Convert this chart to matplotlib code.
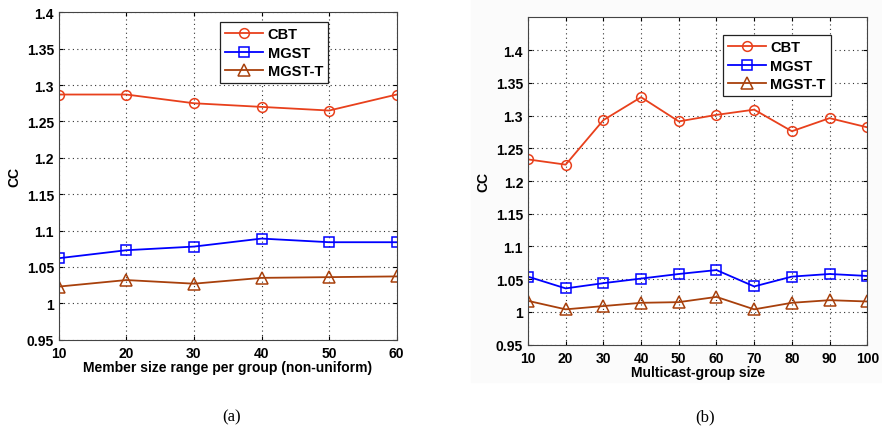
import matplotlib.pyplot as plt
from matplotlib.patches import Rectangle

# panel (a): member size range per group
sizes_a = [10, 20, 30, 40, 50, 60]
cbt_a = [1.287, 1.287, 1.275, 1.270, 1.265, 1.287]
mgst_a = [1.062, 1.073, 1.078, 1.089, 1.084, 1.084]
mgstt_a = [1.023, 1.032, 1.027, 1.035, 1.036, 1.037]

# panel (b): multicast-group size
sizes_b = [10, 20, 30, 40, 50, 60, 70, 80, 90, 100]
cbt_b = [1.233, 1.225, 1.293, 1.328, 1.291, 1.301, 1.309, 1.276, 1.296, 1.282]
mgst_b = [1.054, 1.036, 1.044, 1.051, 1.058, 1.064, 1.039, 1.054, 1.058, 1.055]
mgstt_b = [1.017, 1.004, 1.009, 1.014, 1.015, 1.023, 1.004, 1.014, 1.018, 1.016]

yticks = [0.95, 1.0, 1.05, 1.1, 1.15, 1.2, 1.25, 1.3, 1.35, 1.4]
ytick_labels = ['0.95', '1', '1.05', '1.1', '1.15', '1.2', '1.25', '1.3', '1.35', '1.4']

c_cbt = '#E8401C'
c_mgst = '#0000FF'
c_mgstt = '#A8400C'

plt.rcParams['font.family'] = ['Liberation Sans', 'DejaVu Sans']
plt.rcParams['font.weight'] = 'bold'
plt.rcParams['axes.labelweight'] = 'bold'

fig = plt.figure(figsize=(8.82, 4.31), dpi=100)
# faint background behind panel (b), as in the scanned figure
fig.patches.append(Rectangle((471 / 882, 1 - 383 / 431), 411 / 882, 383 / 431,
                             transform=fig.transFigure, color='#fbfbfb', zorder=-1))

ax1 = fig.add_axes([0.0666, 0.2095, 0.3832, 0.7596])
ax2 = fig.add_axes([0.5986, 0.1979, 0.3847, 0.7596])


def draw(ax, x, cbt, mgst, mgstt, xlabel, ylim, leg_pos):
    ax.plot(x, cbt, '-o', color=c_cbt, mfc='none', ms=7, mew=1.1, lw=1.3, label='CBT')
    ax.plot(x, mgst, '-s', color=c_mgst, mfc='none', ms=7, mew=1.1, lw=1.3, label='MGST')
    ax.plot(x, mgstt, '-^', color=c_mgstt, mfc='none', ms=8, mew=1.1, lw=1.3, label='MGST-T')
    ax.set_xlim(x[0], x[-1])
    ax.set_ylim(*ylim)
    ax.set_xticks(x)
    ax.set_yticks(yticks)
    ax.set_yticklabels(ytick_labels)
    ax.grid(True, linestyle=(0, (1, 3)), color='#333333', lw=0.8)
    ax.tick_params(direction='in', top=True, right=True, labelsize=10, length=3)
    ax.tick_params(axis='x', pad=4.5)
    ax.tick_params(axis='y', pad=3.5)
    for s in ax.spines.values():
        s.set_color('#444444')
    ax.set_xlabel(xlabel, fontsize=10, labelpad=0)
    ax.set_ylabel('CC', fontsize=10, labelpad=4)
    leg = ax.legend(loc='upper left', bbox_to_anchor=leg_pos, fontsize=10.5,
                    fancybox=False, framealpha=1, edgecolor='#222222',
                    borderpad=0.35, handlelength=2.6, labelspacing=0.3,
                    handletextpad=0.3, borderaxespad=0)
    leg.get_frame().set_linewidth(0.9)


draw(ax1, sizes_a, cbt_a, mgst_a, mgstt_a,
     'Member size range per group (non-uniform)', (0.95, 1.4), (0.478, 0.97))
draw(ax2, sizes_b, cbt_b, mgst_b, mgstt_b,
     'Multicast-group size', (0.95, 1.45), (0.575, 0.945))

fig.text(232 / 882, 1 - 417 / 431, '(a)', ha='center', va='center',
         fontsize=12, family='Liberation Serif', weight='normal')
fig.text(705 / 882, 1 - 417 / 431, '(b)', ha='center', va='center',
         fontsize=12, family='Liberation Serif', weight='normal')

fig.savefig('out.png', dpi=100)
